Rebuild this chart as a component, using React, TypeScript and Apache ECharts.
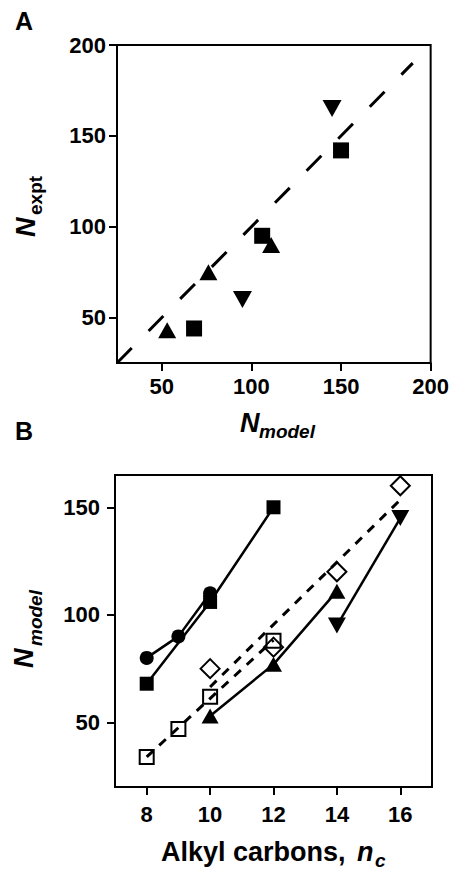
import React, { useEffect, useRef } from "react";
import * as echarts from "echarts";

// ---------- Panel A data (N_model vs N_expt) ----------
const aTicks = [50, 100, 150, 200];
const aSquareModel = [68, 106, 150];
const aSquareExpt = [44, 95, 142];
const aUpModel = [53, 76, 111];
const aUpExpt = [43, 75, 90];
const aDownModel = [95, 145];
const aDownExpt = [60, 165];
const aIdentity = [25, 190];

// ---------- Panel B data (N_model vs alkyl carbons) ----------
const bXTicks = [8, 10, 12, 14, 16];
const bYTicks = [50, 100, 150];
const bCircleNc = [8, 9, 10];
const bCircleN = [80, 90, 110];
const bSquareNc = [8, 10, 12];
const bSquareN = [68, 106, 150];
const bUpNc = [10, 12, 14];
const bUpN = [53, 77, 111];
const bDownNc = [14, 16];
const bDownN = [95, 145];
const bOpenSquareNc = [8, 9, 10, 12];
const bOpenSquareN = [34, 47, 62, 88];
const bDiamondNc = [10, 12, 14, 16];
const bDiamondN = [75, 85, 120, 160];

const FONT = "'Liberation Sans', Arial, Helvetica, sans-serif";

const zip = (xs: number[], ys: number[]) => xs.map((x, i) => [x, ys[i]]);

// least-squares fit line drawn over the range of the data
const fitLine = (xs: number[], ys: number[]) => {
  const n = xs.length;
  const mx = xs.reduce((a, b) => a + b, 0) / n;
  const my = ys.reduce((a, b) => a + b, 0) / n;
  let sxy = 0;
  let sxx = 0;
  xs.forEach((x, i) => {
    sxy += (x - mx) * (ys[i] - my);
    sxx += (x - mx) * (x - mx);
  });
  const k = sxy / sxx;
  const b = my - k * mx;
  const x0 = Math.min(...xs);
  const x1 = Math.max(...xs);
  return [
    [x0, k * x0 + b],
    [x1, k * x1 + b],
  ];
};

const axisBase = (ticks: number[], margin: number) => ({
  axisLine: { show: true, onZero: false, lineStyle: { color: "#000", width: 2 } },
  axisTick: {
    show: true,
    inside: false,
    length: 8,
    customValues: ticks,
    lineStyle: { color: "#000", width: 2 },
  },
  axisLabel: {
    customValues: ticks,
    margin,
    color: "#000",
    fontSize: 22,
    fontWeight: "bold",
    fontFamily: FONT,
  },
  splitLine: { show: false },
});

const black = "#000";
const filled = { color: black, opacity: 1 };
const open = { color: "transparent", borderColor: black, borderWidth: 2, opacity: 1 };

const txt = (
  text: string,
  x: number,
  y: number,
  size: number,
  italic: boolean,
  align: string = "left"
) => ({
  type: "text",
  x,
  y,
  silent: true,
  style: {
    text,
    fill: black,
    fontSize: size,
    fontWeight: "bold",
    fontStyle: italic ? "italic" : "normal",
    fontFamily: FONT,
    align,
    verticalAlign: "middle",
  },
});

export default function App() {
  const ref = useRef<HTMLDivElement>(null);

  useEffect(() => {
    if (!ref.current) return;
    const chart = echarts.init(ref.current, undefined, { renderer: "svg" });

    const option: any = {
      animation: false,
      backgroundColor: "#fff",
      grid: [
        { left: 117, top: 45, width: 315, height: 318, show: true, borderColor: black, borderWidth: 2 },
        { left: 115, top: 475, width: 317, height: 312, show: true, borderColor: black, borderWidth: 2 },
      ],
      xAxis: [
        { type: "value", gridIndex: 0, min: 25, max: 200, ...axisBase(aTicks, 12) },
        { type: "value", gridIndex: 1, min: 7, max: 17, ...axisBase(bXTicks, 16) },
      ],
      yAxis: [
        { type: "value", gridIndex: 0, min: 25, max: 200, ...axisBase(aTicks, 11) },
        { type: "value", gridIndex: 1, min: 20, max: 165, ...axisBase(bYTicks, 15) },
      ],
      series: [
        // Panel A
        {
          type: "line",
          xAxisIndex: 0,
          yAxisIndex: 0,
          data: zip(aIdentity, aIdentity),
          symbol: "none",
          silent: true,
          lineStyle: { color: black, width: 3, type: [21, 24] },
        },
        {
          type: "scatter",
          xAxisIndex: 0,
          yAxisIndex: 0,
          data: zip(aSquareModel, aSquareExpt),
          symbol: "rect",
          symbolSize: 16,
          itemStyle: filled,
        },
        {
          type: "scatter",
          xAxisIndex: 0,
          yAxisIndex: 0,
          data: zip(aUpModel, aUpExpt),
          symbol: "triangle",
          symbolSize: [18, 16],
          itemStyle: filled,
        },
        {
          type: "scatter",
          xAxisIndex: 0,
          yAxisIndex: 0,
          data: zip(aDownModel, aDownExpt),
          symbol: "triangle",
          symbolRotate: 180,
          symbolSize: [19, 17],
          itemStyle: filled,
        },
        // Panel B fits (dashed)
        {
          type: "line",
          xAxisIndex: 1,
          yAxisIndex: 1,
          data: fitLine(bOpenSquareNc, bOpenSquareN),
          symbol: "none",
          silent: true,
          lineStyle: { color: black, width: 3, type: [9, 8] },
        },
        {
          type: "line",
          xAxisIndex: 1,
          yAxisIndex: 1,
          data: fitLine(bDiamondNc, bDiamondN),
          symbol: "none",
          silent: true,
          lineStyle: { color: black, width: 3, type: [9, 8] },
        },
        // Panel B open markers
        {
          type: "scatter",
          xAxisIndex: 1,
          yAxisIndex: 1,
          data: zip(bOpenSquareNc, bOpenSquareN),
          symbol: "rect",
          symbolSize: 14,
          itemStyle: open,
        },
        {
          type: "scatter",
          xAxisIndex: 1,
          yAxisIndex: 1,
          data: zip(bDiamondNc, bDiamondN),
          symbol: "diamond",
          symbolSize: 19,
          itemStyle: open,
        },
        // Panel B filled series with solid lines
        {
          type: "line",
          xAxisIndex: 1,
          yAxisIndex: 1,
          data: zip(bCircleNc, bCircleN),
          symbol: "circle",
          symbolSize: 14,
          itemStyle: filled,
          lineStyle: { color: black, width: 2.5 },
        },
        {
          type: "line",
          xAxisIndex: 1,
          yAxisIndex: 1,
          data: zip(bSquareNc, bSquareN),
          symbol: "rect",
          symbolSize: 14,
          itemStyle: filled,
          lineStyle: { color: black, width: 2.5 },
        },
        {
          type: "line",
          xAxisIndex: 1,
          yAxisIndex: 1,
          data: zip(bUpNc, bUpN),
          symbol: "triangle",
          symbolSize: [17, 15],
          itemStyle: filled,
          lineStyle: { color: black, width: 2.5 },
        },
        {
          type: "line",
          xAxisIndex: 1,
          yAxisIndex: 1,
          data: zip(bDownNc, bDownN),
          symbol: "triangle",
          symbolRotate: 180,
          symbolSize: [18, 16],
          itemStyle: filled,
          lineStyle: { color: black, width: 2.5 },
        },
      ],
      graphic: {
        elements: [
          txt("A", 15, 21, 25, false),
          txt("B", 15, 431, 25, false),
          // Panel A x title
          txt("N", 240, 422.5, 27, true),
          txt("model", 259, 431.5, 19, true),
          // Panel A y title (rotated)
          {
            type: "group",
            x: 26,
            y: 237,
            rotation: Math.PI / 2,
            children: [txt("N", 0, 0, 27, true), txt("expt", 22, 9.5, 19, false)],
          },
          // Panel B y title (rotated)
          {
            type: "group",
            x: 24,
            y: 668,
            rotation: Math.PI / 2,
            children: [txt("N", 0, 0, 27, true), txt("model", 22, 11, 19, true)],
          },
          // Panel B x title
          txt("Alkyl carbons,", 161, 852, 27, false),
          txt("n", 357, 852, 27, true),
          txt("c", 375, 860, 19, true),
        ],
      },
    };

    chart.setOption(option);
    return () => chart.dispose();
  }, []);

  return (
    <div
      ref={ref}
      style={{ position: "fixed", left: 0, top: 0, width: 452, height: 870, background: "#fff" }}
    />
  );
}
